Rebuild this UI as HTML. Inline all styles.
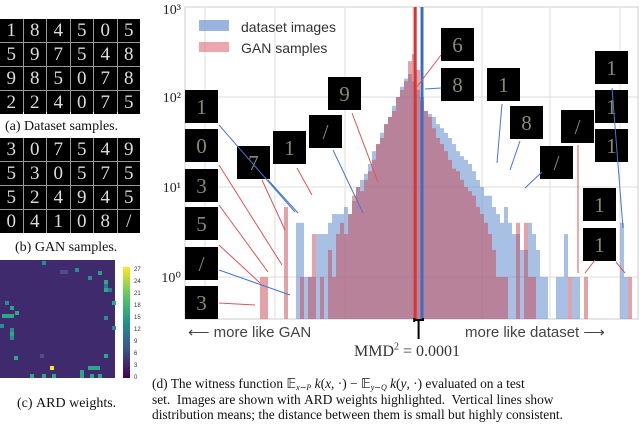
<!DOCTYPE html>
<html><head><meta charset="utf-8">
<style>
body{margin:0;width:640px;height:429px;background:#fff;overflow:hidden;position:relative;font-family:"Liberation Serif",serif}
.abs{position:absolute}
.cap{position:absolute;font-size:13px;color:#111;white-space:nowrap}
.grid{position:absolute;display:grid;background:#999;gap:1px}
.grid div{background:#000;color:#ddd;font-family:"Liberation Serif",serif;font-size:19px;text-align:center;line-height:23px}
.sc{font-variant:small-caps}
.sb{font-size:8px;line-height:0;vertical-align:-2px}
</style></head><body>
<div class="grid" style="left:0;top:19px;width:140px;height:93px;grid-template-columns:repeat(6,1fr)">
<div>1</div><div>8</div><div>4</div><div>5</div><div>0</div><div>5</div><div>5</div><div>9</div><div>7</div><div>5</div><div>4</div><div>8</div><div>9</div><div>8</div><div>5</div><div>0</div><div>7</div><div>8</div><div>2</div><div>2</div><div>4</div><div>0</div><div>7</div><div>5</div></div>
<div class="cap" style="left:5px;top:119px;font-size:14px">(a) Dataset samples.</div>
<div class="grid" style="left:0;top:138px;width:140px;height:95px;grid-template-columns:repeat(6,1fr)">
<div>3</div><div>0</div><div>7</div><div>5</div><div>4</div><div>9</div><div>5</div><div>3</div><div>0</div><div>5</div><div>7</div><div>5</div><div>5</div><div>2</div><div>4</div><div>9</div><div>4</div><div>5</div><div>0</div><div>4</div><div>1</div><div>0</div><div>8</div><div>/</div></div>
<div class="cap" style="left:15px;top:240px;font-size:14px">(b) <span class="sc">GAN</span> samples.</div>
<svg class="abs" style="left:0;top:260px" width="145" height="125" id="hm"></svg>
<div class="cap" style="left:17px;top:396px;font-size:14px">(c) <span class="sc">ARD</span> weights.</div>

<svg class="abs" style="left:0;top:0" width="640" height="429" id="chart"></svg>

<div class="abs" style="left:188px;top:323px;font:15px 'Liberation Sans',sans-serif;color:#444">⟵ more like GAN</div>
<div class="abs" style="left:465px;top:323px;font:15px 'Liberation Sans',sans-serif;color:#444">more like dataset ⟶</div>
<div class="abs" style="left:354px;top:343px;font-size:16px;color:#333">MMD<sup style="font-size:10px;line-height:0">2</sup> = 0.0001</div>
<div class="cap" style="left:152px;top:376px;line-height:15.5px;font-size:13.4px">(d) The witness function 𝔼<span class="sb"><i>x</i>∼<i>P</i></span> <i>k</i>(<i>x</i>, ·) − 𝔼<span class="sb"><i>y</i>∼<i>Q</i></span> <i>k</i>(<i>y</i>, ·) evaluated on a test<br>set.&nbsp; Images are shown with <span class="sc">ARD</span> weights highlighted.&nbsp; Vertical lines show<br>distribution means; the distance between them is small but highly consistent.</div>

<script>
const redCounts=[0,1,1,0,0,0,0,6,0,0,0,1,0,1,3,0,1,0,2,1,3,4,3,5,8,10,9,12,15,20,30,35,50,60,70,100,120,150,250,300,200,100,70,60,45,35,30,25,20,16,15,12,10,9,8,6,5,4,3,2,1,1,1,0,0,4,0,4,1,1,0,0,0,0,0,0,0,0,1,0,0,0,1,0,0,0,0,0,0,0,0,0,0,1,0];
const blueCounts=[0,0,0,0,0,0,0,0,0,0,4,4,1,1,1,3,3,3,4,5,5,5,6,5,7,10,12,14,18,25,30,40,50,60,80,100,130,160,180,150,120,90,70,65,60,50,45,40,35,30,25,22,20,18,15,12,10,8,8,6,5,4,6,4,3,3,2,2,4,3,2,1,1,0,0,1,1,3,0,1,1,0,0,0,0,0,0,0,0,0,0,4,1,0,0];
const yTickLabels=["10⁰","10¹","10²","10³"];
const yTickValues=[1,10,100,1000];
const meanRed=39.8, meanBlue=41.5;
const NS='http://www.w3.org/2000/svg';
const svg=document.getElementById('chart');
function mk(t,a,p){const e=document.createElementNS(NS,t);for(const k in a)e.setAttribute(k,a[k]);(p||svg).appendChild(e);return e;}
const L=185,R=638,T=7,B=319;
function xScale(i){return 256+4*i;}
function yScale(v){return 277-90*Math.log10(v);}
let e=mk('rect',{x:L,y:T,width:R-L,height:B-T,fill:'#fff',stroke:'#ccc'});

[205,275,345,413,482,550,620].forEach(x=>{mk('line',{x1:x,x2:x,y1:T,y2:B,stroke:'#ddd'});});
yTickValues.forEach((v,k)=>{const y=yScale(v);
 if(y>T+1) mk('line',{x1:L,x2:R,y1:y,y2:y,stroke:'#ddd'});
 const t=mk('text',{x:181,y:Math.max(y,9)+5,'text-anchor':'end','font-size':'14','font-family':'Liberation Serif,serif',fill:'#222'});
 t.textContent=yTickLabels[k];
 });
function bars(arr,col,name){arr.forEach((v,i)=>{if(v<=0)return;const y=yScale(v);
 const r=mk('rect',{x:xScale(i),y:y,width:4,height:B-y,fill:col});
 });}
bars(blueCounts,'rgba(110,150,210,0.6)','dataset-bar');
bars(redCounts,'rgba(200,70,80,0.5)','gan-bar');
e=mk('line',{x1:xScale(meanRed),x2:xScale(meanRed),y1:T,y2:B,stroke:'#d33',"stroke-width":3});

e=mk('line',{x1:xScale(meanBlue),x2:xScale(meanBlue),y1:T,y2:B,stroke:'#3a6fc0',"stroke-width":3});

mk('path',{d:`M${xScale(meanRed)-1} 322 v-4 M${xScale(meanRed)-1} 320 h${xScale(meanBlue)-xScale(meanRed)+2} v-2 M${(xScale(meanRed)+xScale(meanBlue))/2} 320 v19`,stroke:'#000','stroke-width':2,fill:'none'});
e=mk('rect',{x:199,y:20,width:30,height:11,fill:'rgba(110,150,210,0.7)'});
e=mk('rect',{x:199,y:42,width:30,height:10,fill:'rgba(220,110,120,0.6)'});
[["dataset images",32],["GAN samples",53]].forEach(a=>{const t=mk('text',{x:241,y:a[1],'font-size':'14','font-family':'Liberation Sans,sans-serif',fill:'#333'});t.textContent=a[0];});
const tiles=[[185,90,'1'],[185,129,'0'],[185,169,'3'],[185,207,'5'],[185,247,'/'],[185,286,'3'],[237,146,'7'],[273,131,'1'],[309,115,'/'],[328,77,'9'],[441,28,'6'],[441,68,'8'],[487,68,'1'],[510,106,'8'],[540,146,'/'],[561,110,'/'],[595,51,'1'],[595,90,'1'],[595,129,'1'],[583,188,'1'],[583,228,'1']];
tiles.forEach(t=>{const r=mk('rect',{x:t[0],y:t[1],width:33,height:33,fill:'#000'});
 const tx=mk('text',{x:t[0]+16.5,y:t[1]+24,'text-anchor':'middle','font-size':'21','font-family':'Liberation Serif,serif',fill:'#8a8a70'});tx.textContent=t[2];});
const arrows=[[219,125,295,212,'#47c'],[219,165,282,265,'#d55'],[219,205,268,272,'#d55'],[219,245,260,283,'#d55'],[219,270,290,295,'#47c'],[219,303,255,305,'#d55'],[262,180,285,230,'#d55'],[268,180,298,213,'#47c'],[297,168,312,195,'#d55'],[333,150,363,213,'#47c'],[352,113,378,182,'#d55'],[441,55,416,88,'#d55'],[441,88,425,89,'#47c'],[502,104,497,163,'#47c'],[520,141,510,170,'#47c'],[542,172,525,188,'#47c'],[578,145,578,273,'#d55'],[595,260,585,273,'#d55'],[612,88,623,228,'#47c'],[616,262,625,273,'#d55']];
arrows.forEach(a=>{mk('line',{x1:a[0],y1:a[1],x2:a[2],y2:a[3],stroke:a[4],'stroke-width':1});});
const hm=document.getElementById('hm');
mk('rect',{x:0,y:0,width:115,height:118,fill:'#3f2a6e'},hm);
const cells=[[42,5,'#2a8c8c'],[75,12,'#2a8c8c'],[60,14,'#4a4f8a'],[64,14,'#4a4f8a'],[98,15,'#23a08a'],[88,20,'#2a8c8c'],[104,24,'#2ea884'],[104,28,'#2e7c90'],[108,32,'#2e7c90'],[104,32,'#2ea884'],[5,45,'#2a8c8c'],[10,50,'#2ea884'],[2,58,'#2ea884'],[6,58,'#2ea884'],[10,58,'#2ea884'],[15,55,'#2ea884'],[112,45,'#2ea884'],[10,72,'#2a8c8c'],[10,76,'#2ea884'],[10,80,'#2a8c8c'],[0,68,'#2a8c8c'],[40,98,'#4a4f8a'],[50,110,'#fde725'],[88,110,'#2ea884'],[92,110,'#2ea884'],[96,110,'#2ea884'],[80,118,'#2ea884'],[80,114,'#2ea884'],[30,118,'#2ea884'],[42,118,'#2ea884'],[52,118,'#2ea884'],[90,118,'#2ea884'],[98,118,'#2ea884'],[104,98,'#2ea884'],[112,70,'#2a8c8c'],[14,100,'#2ea884'],[104,60,'#2a8c8c']];
cells.forEach(c=>mk('rect',{x:c[0],y:c[1]-4,width:4,height:4,fill:c[2]},hm));
const g=mk('linearGradient',{id:'vir',x1:0,y1:1,x2:0,y2:0},mk('defs',{},hm));
[['0','#440154'],['0.25','#3b528b'],['0.5','#21918c'],['0.75','#5ec962'],['1','#fde725']].forEach(s=>mk('stop',{offset:s[0],'stop-color':s[1]},g));
e=mk('rect',{x:123,y:7,width:7,height:111,fill:'url(#vir)'},hm);
['27','24','21','18','15','12','9','6','3','0'].forEach((l,k)=>{const t=mk('text',{x:134,y:11+k*12,'font-size':'6','font-family':'Liberation Sans,sans-serif',fill:'#333'},hm);t.textContent=l;});
</script>
</body></html>
